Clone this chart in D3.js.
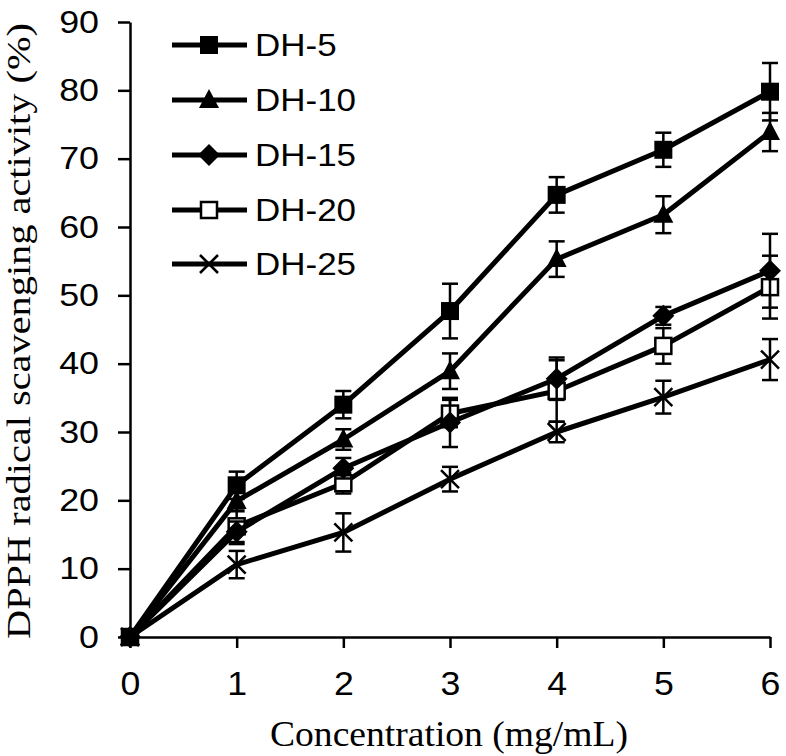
<!DOCTYPE html>
<html><head><meta charset="utf-8">
<script src="https://cdn.jsdelivr.net/npm/d3@7"></script>
<style>body{margin:0;background:#fff}svg{display:block}</style>
</head><body><svg id="c" width="786" height="756"></svg>
<script>
const concentrations = [0, 1, 2, 3, 4, 5, 6];
const seriesNames = ["DH-5", "DH-10", "DH-15", "DH-20", "DH-25"];
const dh5  = [0, 22.2, 34.0, 47.7, 64.7, 71.3, 79.8];
const dh10 = [0, 19.9, 28.9, 38.9, 55.3, 61.8, 73.9];
const dh15 = [0, 15.4, 24.7, 31.4, 37.8, 47.0, 53.6];
const dh20 = [0, 16.2, 22.5, 32.7, 36.0, 42.6, 51.2];
const dh25 = [0, 10.6, 15.3, 23.1, 30.0, 35.1, 40.6];
const err5  = [0, 2.0, 2.0, 4.0, 2.6, 2.5, 4.2];
const err10 = [0, 1.5, 1.5, 2.6, 2.6, 2.7, 2.8];
const err15 = [0, 1.5, 1.5, 3.6, 3.1, 1.3, 5.4];
const err20 = [0, 2.6, 1.5, 2.0, 4.5, 2.6, 4.6];
const err25 = [0, 2.0, 2.8, 1.8, 1.5, 2.4, 3.0];
const xTicks = [0, 1, 2, 3, 4, 5, 6];
const yTicks = [0, 10, 20, 30, 40, 50, 60, 70, 80, 90];
const markerTypes = ["square", "triangle", "diamond", "opensquare", "cross"];

const values = [dh5, dh10, dh15, dh20, dh25];
const errors = [err5, err10, err15, err20, err25];

const svg = d3.select("#c");
const x = d3.scaleLinear().domain([0, 6]).range([130, 770]);
const y = d3.scaleLinear().domain([0, 90]).range([637, 22]);

const sans = "'Liberation Sans', Arial, sans-serif";
const serif = "'Liberation Serif', 'Times New Roman', serif";

// widen text horizontally (reference glyphs are slightly stretched)
function stretch(sel, factor) {
  sel.each(function () {
    const len = this.getComputedTextLength();
    d3.select(this).attr("textLength", len * factor).attr("lengthAdjust", "spacingAndGlyphs");
  });
}

// axes
const xAxis = svg.append("g").attr("transform", `translate(0,${y(0)})`)
  .call(d3.axisBottom(x).tickValues(xTicks).tickFormat(d3.format("d")).tickSize(11).tickSizeOuter(0).tickPadding(24));
const yAxis = svg.append("g").attr("transform", `translate(${x(0)},0)`)
  .call(d3.axisLeft(y).tickValues(yTicks).tickFormat(d3.format("d")).tickSize(12).tickSizeOuter(0).tickPadding(19));
[xAxis, yAxis].forEach(g => {
  g.select(".domain").attr("stroke", "#000").attr("stroke-width", 2.5);
  g.selectAll(".tick line").attr("stroke", "#000").attr("stroke-width", 2.5);
  g.selectAll(".tick text").attr("font-family", sans).attr("fill", "#000");
});
yAxis.selectAll(".tick text").attr("font-size", 32);
xAxis.selectAll(".tick text").attr("font-size", 33).attr("dy", "0.71em");
stretch(yAxis.selectAll(".tick text"), 1.12);
stretch(xAxis.selectAll(".tick text"), 1.08);

// axis titles
const xt = svg.append("text").attr("x", 449).attr("y", 746).attr("text-anchor", "middle")
  .attr("font-family", serif).attr("font-size", 35).text("Concentration (mg/mL)");
xt.attr("textLength", 358).attr("lengthAdjust", "spacingAndGlyphs");
const yt = svg.append("text").attr("transform", `translate(30,331) rotate(-90)`).attr("text-anchor", "middle")
  .attr("font-family", serif).attr("font-size", 34).text("DPPH radical scavenging activity (%)");
yt.attr("textLength", 616).attr("lengthAdjust", "spacingAndGlyphs");

function drawMarker(g, type, cx, cy) {
  if (type === "square") {
    g.append("rect").attr("x", cx - 9).attr("y", cy - 9).attr("width", 18).attr("height", 18).attr("fill", "#000");
  } else if (type === "opensquare") {
    g.append("rect").attr("x", cx - 8).attr("y", cy - 8).attr("width", 16).attr("height", 16)
      .attr("fill", "#fff").attr("stroke", "#000").attr("stroke-width", 2.5);
  } else if (type === "triangle") {
    g.append("path").attr("d", `M${cx},${cy - 11}L${cx + 10},${cy + 8}L${cx - 10},${cy + 8}Z`).attr("fill", "#000");
  } else if (type === "diamond") {
    g.append("path").attr("d", `M${cx},${cy - 11}L${cx + 11},${cy}L${cx},${cy + 11}L${cx - 11},${cy}Z`).attr("fill", "#000");
  } else if (type === "cross") {
    g.append("path").attr("d", `M${cx - 9},${cy - 9}L${cx + 9},${cy + 9}M${cx - 9},${cy + 9}L${cx + 9},${cy - 9}`)
      .attr("stroke", "#000").attr("stroke-width", 2.5).attr("fill", "none");
  }
}

const line = d3.line().x((d, i) => x(concentrations[i])).y(d => y(d));

// draw from last to first so DH-5 sits on top
for (let s = values.length - 1; s >= 0; s--) {
  const g = svg.append("g");
  values[s].forEach((v, i) => {
    const e = errors[s][i];
    if (!e) return;
    const cx = x(concentrations[i]);
    g.append("line").attr("x1", cx).attr("x2", cx).attr("y1", y(v - e)).attr("y2", y(v + e))
      .attr("stroke", "#000").attr("stroke-width", 2.5);
    [v - e, v + e].forEach(w => g.append("line").attr("x1", cx - 8).attr("x2", cx + 8)
      .attr("y1", y(w)).attr("y2", y(w)).attr("stroke", "#000").attr("stroke-width", 2.5));
  });
  g.append("path").datum(values[s]).attr("d", line).attr("fill", "none")
    .attr("stroke", "#000").attr("stroke-width", 5).attr("stroke-linejoin", "round");
  values[s].forEach((v, i) => drawMarker(g, markerTypes[s], x(concentrations[i]), y(v)));
}

// legend
const legendY = [45, 100, 155, 210, 264];
seriesNames.forEach((name, s) => {
  const g = svg.append("g");
  const ly = legendY[s];
  g.append("line").attr("x1", 172).attr("x2", 247).attr("y1", ly).attr("y2", ly)
    .attr("stroke", "#000").attr("stroke-width", 5);
  drawMarker(g, markerTypes[s], 209, ly);
  const t = g.append("text").attr("x", 255).attr("y", ly).attr("dy", "0.36em")
    .attr("font-family", sans).attr("font-size", 31.5).text(name);
  stretch(t, 1.11);
});
</script></body></html>
